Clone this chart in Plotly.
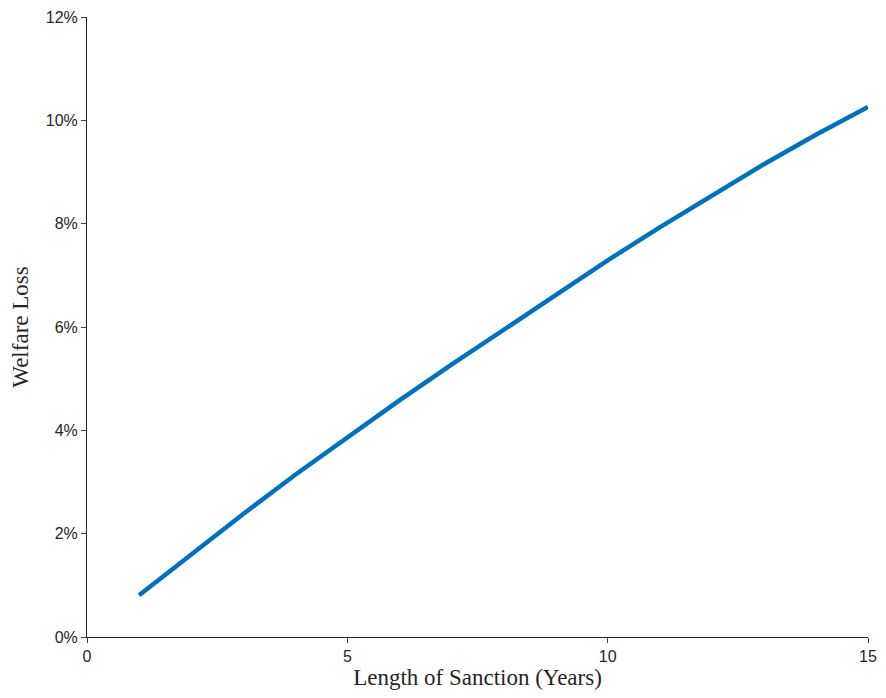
import plotly.graph_objects as go

# length of sanction (years) and welfare loss (%)
years = list(range(1, 16))
welfare_loss = [0.81, 1.60, 2.38, 3.14, 3.87, 4.58, 5.27, 5.95, 6.63, 7.29,
                7.93, 8.55, 9.15, 9.72, 10.26]

fig = go.Figure()
fig.add_trace(go.Scatter(x=years, y=[v / 100 for v in welfare_loss],
                         mode='lines',
                         line=dict(color='#0072BD', width=4.5)))

# page body has an 8px margin, so the figure is offset by it
fig.update_layout(
    template='simple_white',
    width=878, height=682,
    margin=dict(l=79, r=18, t=9, b=53),
    showlegend=False,
    font=dict(family='Liberation Sans, Arial', size=16, color='#262626'),
)
fig.update_xaxes(range=[0, 15], tickvals=[0, 5, 10, 15], ticks='outside',
                 ticklen=5, showline=True, linecolor='#262626', automargin=False,
                 title=dict(text='Length of Sanction (Years)', standoff=8,
                            font=dict(family='Liberation Serif, serif', size=23)))
fig.update_yaxes(range=[0, 0.12], tickvals=[0, 0.02, 0.04, 0.06, 0.08, 0.10, 0.12],
                 tickformat='.0%', ticks='outside', ticklen=5, showline=True,
                 linecolor='#262626', automargin=False,
                 title=dict(text='Welfare Loss', standoff=14,
                            font=dict(family='Liberation Serif, serif', size=23)))

fig.write_html('out.html')
